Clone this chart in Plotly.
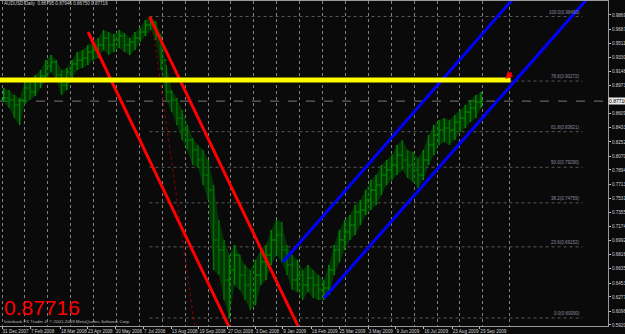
import numpy as np
import pandas as pd
import plotly.graph_objects as go

# ---------------- data ----------------
week_start = "2007-12-31"
week_hi = [0.8939,0.8914,0.8850,0.8812,0.9015,0.9041,0.9105,0.9168,0.9296,0.9359,
           0.9296,0.9168,0.9194,0.9296,0.9398,0.9423,0.9487,0.9525,0.9576,0.9678,
           0.9652,0.9627,0.9678,0.9640,0.9576,0.9652,0.9703,0.9805,0.9849,0.9780,
           0.9614,0.9232,0.8914,0.8812,0.8659,0.8468,0.8302,0.8213,0.8149,0.8022,
           0.7703,0.7257,0.7002,0.6811,0.6939,0.6811,0.6684,0.6620,0.6748,0.6875,
           0.6939,0.7130,0.7257,0.7232,0.6939,0.6811,0.6748,0.6620,0.6684,0.6620,
           0.6556,0.6493,0.6684,0.6939,0.7130,0.7257,0.7321,0.7448,0.7512,0.7640,
           0.7767,0.7831,0.7958,0.8022,0.8085,0.8213,0.8276,0.8149,0.8123,0.8047,
           0.8149,0.8340,0.8468,0.8531,0.8557,0.8531,0.8595,0.8659,0.8722,0.8786,
           0.8850,0.8888]
week_lo = [0.8761,0.8684,0.8557,0.8468,0.8735,0.8786,0.8837,0.8939,0.9041,0.9143,
           0.9041,0.8850,0.8914,0.9066,0.9168,0.9194,0.9232,0.9296,0.9321,0.9423,
           0.9359,0.9398,0.9448,0.9398,0.9359,0.9423,0.9525,0.9601,0.9678,0.9550,
           0.9168,0.8786,0.8633,0.8468,0.8276,0.8149,0.7958,0.7920,0.7703,0.7512,
           0.6620,0.6556,0.6238,0.6009,0.6429,0.6366,0.6238,0.6111,0.6174,0.6429,
           0.6493,0.6684,0.6811,0.6722,0.6556,0.6366,0.6340,0.6238,0.6340,0.6264,
           0.6238,0.6238,0.6302,0.6556,0.6722,0.6875,0.7002,0.7066,0.7194,0.7321,
           0.7385,0.7448,0.7576,0.7703,0.7767,0.7831,0.7894,0.7792,0.7741,0.7665,
           0.7767,0.7958,0.8085,0.8213,0.8251,0.8213,0.8276,0.8378,0.8429,0.8506,
           0.8557,0.8684]
week_cl = [0.8812,0.8786,0.8722,0.8786,0.8939,0.8888,0.9041,0.9092,0.9219,0.9270,
           0.9105,0.8977,0.9143,0.9245,0.9296,0.9321,0.9398,0.9423,0.9487,0.9576,
           0.9487,0.9550,0.9601,0.9487,0.9525,0.9576,0.9652,0.9742,0.9780,0.9614,
           0.9296,0.8888,0.8786,0.8557,0.8404,0.8276,0.8149,0.8022,0.7831,0.7640,
           0.7002,0.6875,0.6493,0.6620,0.6811,0.6556,0.6429,0.6366,0.6556,0.6722,
           0.6811,0.7002,0.7066,0.6875,0.6684,0.6493,0.6556,0.6429,0.6518,0.6429,
           0.6366,0.6391,0.6620,0.6875,0.7002,0.7104,0.7194,0.7359,0.7385,0.7512,
           0.7640,0.7703,0.7831,0.7894,0.7958,0.8085,0.8022,0.7958,0.7894,0.7831,
           0.8022,0.8213,0.8340,0.8404,0.8429,0.8404,0.8506,0.8557,0.8633,0.8684,
           0.8761,0.8772]
first_open = 0.8800
last_price = 0.87716
header_text = "AUDUSD,Daily  0.86795 0.87946 0.86750 0.87716"
copyright_text = "Interbank FX Trader 4, \u00a9 2001-2009 MetaQuotes Software Corp."

date_labels = ["31 Dec 2007", "7 Feb 2008", "18 Mar 2008", "23 Apr 2008", "30 May 2008",
               "7 Jul 2008", "13 Aug 2008", "19 Sep 2008", "27 Oct 2008", "3 Dec 2008",
               "9 Jan 2009", "16 Feb 2009", "25 Mar 2009", "3 May 2009", "9 Jun 2009",
               "16 Jul 2009", "23 Aug 2009", "29 Sep 2009"]
price_ticks = [0.98690, 0.96875, 0.95115, 0.93300, 0.91480, 0.89730, 0.86095, 0.84335,
               0.82520, 0.80705, 0.78945, 0.77130, 0.75310, 0.73555, 0.71740, 0.69925,
               0.68165, 0.66350, 0.64535, 0.62775, 0.60960, 0.59200]

# chart objects (anchor points)
red_left = (["2008-04-24", "2008-11-03"], [0.9652, 0.5800])
red_right = (["2008-07-15", "2009-02-01"], [0.9849, 0.5850])
red_dotted = (["2008-07-18", "2008-09-13"], [0.9805, 0.5920])
blue_upper = (["2009-01-09", "2009-11-11"], [0.6722, 1.0060])
blue_lower = (["2009-03-05", "2010-02-18"], [0.6264, 1.0060])
yellow_level = 0.9040
yellow_end = "2009-11-09"
arrow_point = ("2009-11-02", 0.9054)
fib_high = 0.98490
fib_low = 0.60090
fib_start = "2008-07-15"
fib_end = "2010-02-13"
fib_pcts = [0.0, 23.6, 38.2, 50.0, 61.8, 78.6, 100.0]

# ---------------- build ----------------
start = pd.Timestamp(week_start)
n = len(week_hi)
week_x = pd.date_range(start, periods=n, freq="7D") + pd.Timedelta(hours=60)
week_op = [first_open] + week_cl[:-1]

x0 = start - pd.Timedelta(days=2.67)
x1 = start + pd.Timedelta(days=809.1)
y_lo, y_hi = 0.5907, 1.0047

label_dates = [pd.Timestamp(pd.to_datetime(s, format="%d %b %Y")) for s in date_labels]
grid_dates = [start + pd.Timedelta(days=30.57 * k) for k in range(22)] + [start + pd.Timedelta(days=677)]

fig = go.Figure()

# dense daily-bar mass: range band between weekly highs and lows
fig.add_trace(go.Scatter(x=week_x, y=week_hi, mode="lines", line=dict(width=0, color="#005c00"),
                         hoverinfo="skip"))
fig.add_trace(go.Scatter(x=week_x, y=week_lo, mode="lines", line=dict(width=0, color="#005c00"),
                         fill="tonexty", fillcolor="rgba(0,90,0,0.55)", hoverinfo="skip"))

fig.add_trace(go.Ohlc(
    x=week_x, open=week_op, high=week_hi, low=week_lo, close=week_cl,
    increasing=dict(line=dict(color="#00b400", width=1.4)),
    decreasing=dict(line=dict(color="#008c00", width=1.4)),
    tickwidth=0.45, hoverinfo="skip"))

def seg(pts, color, width, dash="solid"):
    fig.add_trace(go.Scatter(x=pd.to_datetime(pts[0]), y=pts[1], mode="lines",
                             line=dict(color=color, width=width, dash=dash),
                             hoverinfo="skip"))

seg(red_dotted, "#8b0000", 1, "dot")
seg(red_left, "#ff0000", 3)
seg(red_right, "#ff0000", 3)
seg(blue_upper, "#0000ff", 3)
seg(blue_lower, "#0000ff", 3)
seg(([x0, yellow_end], [yellow_level, yellow_level]), "#ffff00", 5)

# dummy trace for the date-label axis
fig.add_trace(go.Scatter(x=label_dates, y=[None] * len(label_dates), xaxis="x2",
                         mode="markers", hoverinfo="skip"))

shapes = []
annotations = []
for p in fib_pcts:
    lvl = fib_low + (fib_high - fib_low) * p / 100.0
    shapes.append(dict(type="line", xref="x", yref="y", x0=fib_start, x1=fib_end,
                       y0=lvl, y1=lvl, line=dict(color="#5a5a5a", width=1, dash="dot"),
                       layer="below"))
    annotations.append(dict(xref="x", yref="y", x=fib_end, y=lvl, xanchor="right",
                            yanchor="bottom", showarrow=False,
                            text=f"{p:.1f}({lvl:.5f})",
                            font=dict(size=4.5, color="#8a8a9a", family="Liberation Sans")))
# bid line
shapes.append(dict(type="line", xref="paper", yref="y", x0=0, x1=1, y0=last_price, y1=last_price,
                   line=dict(color="#7a7a7a", width=1, dash="dash"), layer="below"))

annotations += [
    dict(xref="paper", yref="y", x=1.0, y=last_price, xanchor="left", yanchor="middle",
         showarrow=False, text=f"{last_price:.5f}", bgcolor="#e8e8e8", borderpad=0,
         font=dict(size=5, color="#000000", family="Liberation Sans")),
    dict(xref="paper", yref="paper", x=0.004, y=0.991, xanchor="left", yanchor="middle",
         showarrow=False, text=header_text,
         font=dict(size=4.6, color="#c8c8c8", family="Liberation Sans")),
    dict(xref="paper", yref="paper", x=0.004, y=0.0154, xanchor="left", yanchor="bottom",
         showarrow=False, text=f"{last_price:.5f}",
         font=dict(size=21, color="#ff0000", family="Liberation Sans")),
    dict(xref="paper", yref="paper", x=0.003, y=0.0, xanchor="left", yanchor="bottom",
         showarrow=False, text=copyright_text,
         font=dict(size=4.4, color="#b8b8b8", family="Liberation Sans")),
    dict(xref="x", yref="y", x=arrow_point[0], y=arrow_point[1], ax=8, ay=-8,
         showarrow=True, arrowhead=2, arrowsize=1, arrowwidth=1.5, arrowcolor="#ff0000", text=""),
]

bg = "#0a0a0b"
fig.update_layout(
    width=625, height=334, margin=dict(l=0, r=17, t=1, b=8, autoexpand=False),
    paper_bgcolor=bg, plot_bgcolor=bg, showlegend=False,
    shapes=shapes, annotations=annotations,
    xaxis=dict(type="date", range=[x0, x1], tickvals=grid_dates, showticklabels=False,
               ticks="", showgrid=True, gridcolor="#808080", griddash="dot", gridwidth=1,
               zeroline=False, showline=True, mirror=True, linecolor="#9a9a9a", linewidth=1,
               rangeslider=dict(visible=False), fixedrange=True, automargin=False),
    xaxis2=dict(type="date", overlaying="x", anchor="y", side="bottom", range=[x0, x1],
                tickvals=label_dates, ticktext=date_labels, showgrid=False, zeroline=False,
                ticks="outside", ticklen=2, tickcolor="#c0c0c0", showline=False,
                tickangle=0, automargin=False,
                ticklabelposition="outside right",
                tickfont=dict(size=4.6, color="#d0d0d0", family="Liberation Sans")),
    yaxis=dict(side="right", range=[y_lo, y_hi], tickvals=price_ticks,
               ticktext=[f"{v:.5f}" for v in price_ticks], showgrid=False, zeroline=False,
               ticks="outside", ticklen=2, tickcolor="#c0c0c0", showline=True,
               linecolor="#9a9a9a", linewidth=1, automargin=False,
               tickfont=dict(size=4.6, color="#d0d0d0", family="Liberation Sans")),
)

fig.write_html("out.html")
